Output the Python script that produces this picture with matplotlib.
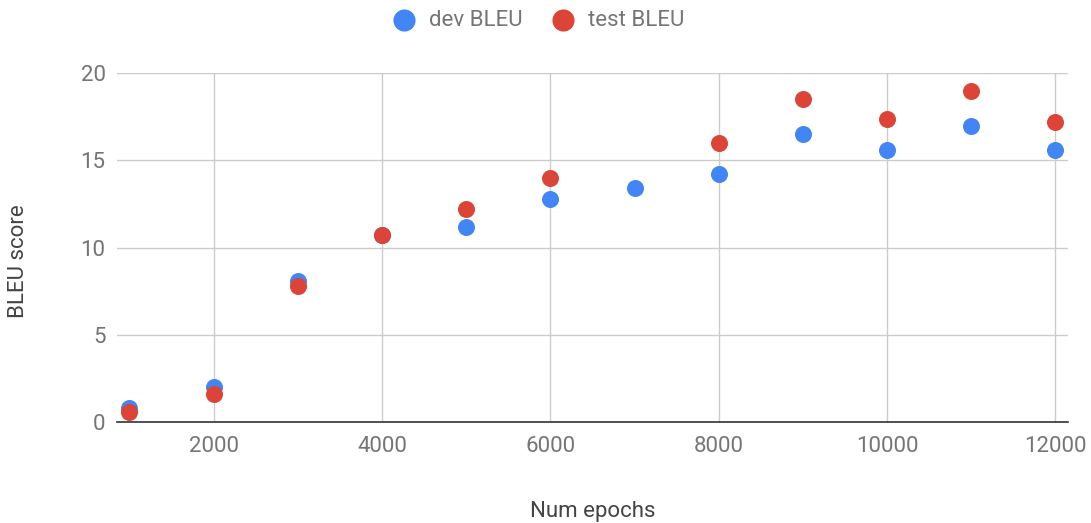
import matplotlib
matplotlib.use('Agg')
import matplotlib.pyplot as plt

plt.rcParams['font.family'] = ['Roboto', 'DejaVu Sans']

# 数据
dev_epochs = [1000, 2000, 3000, 4000, 5000, 6000, 7000, 8000, 9000, 10000, 11000, 12000]
dev_bleu = [0.8, 2.0, 8.1, 10.7, 11.2, 12.8, 13.4, 14.2, 16.5, 15.6, 17.0, 15.6]
test_epochs = [1000, 2000, 3000, 4000, 5000, 6000, 8000, 9000, 10000, 11000, 12000]
test_bleu = [0.6, 1.6, 7.8, 10.7, 12.2, 14.0, 16.0, 18.5, 17.4, 19.0, 17.2]
x_ticks = [2000, 4000, 6000, 8000, 10000, 12000]
y_ticks = [0, 5, 10, 15, 20]

fig = plt.figure(figsize=(10.91, 5.23), dpi=100)
ax = fig.add_axes([0.107, 0.193, 0.872, 0.667])

ax.scatter(dev_epochs, dev_bleu, s=150, color='#4285F4', label='dev BLEU', zorder=3, clip_on=False, linewidths=0)
ax.scatter(test_epochs, test_bleu, s=150, color='#DB4437', label='test BLEU', zorder=4, clip_on=False, linewidths=0)

ax.set_xlim(850, 12150)
ax.set_ylim(0, 20)
ax.set_xticks(x_ticks)
ax.set_yticks(y_ticks)
ax.grid(True, color='#cccccc', linewidth=1)
ax.set_axisbelow(True)
for s in ['top', 'right', 'left']:
    ax.spines[s].set_visible(False)
ax.spines['bottom'].set_color('#333333')
ax.spines['bottom'].set_linewidth(1.2)
ax.spines['bottom'].set_zorder(5)
ax.tick_params(length=0, labelsize=16, labelcolor='#757575')
ax.tick_params(axis='y', pad=8)
ax.tick_params(axis='x', pad=10)

ax.set_xlabel('Num epochs', fontsize=16, color='#444444')
ax.set_ylabel('BLEU score', fontsize=16, color='#444444')
ax.xaxis.set_label_coords(0.5, -0.225)
ax.yaxis.set_label_coords(-0.092, 0.462)

leg = ax.legend(loc='center', bbox_to_anchor=(0.4375, 1.152), ncol=2, frameon=False,
                fontsize=16, handletextpad=0.15, columnspacing=0.8, markerscale=1.3)
for t in leg.get_texts():
    t.set_color('#757575')

fig.savefig('out.png', dpi=100)
